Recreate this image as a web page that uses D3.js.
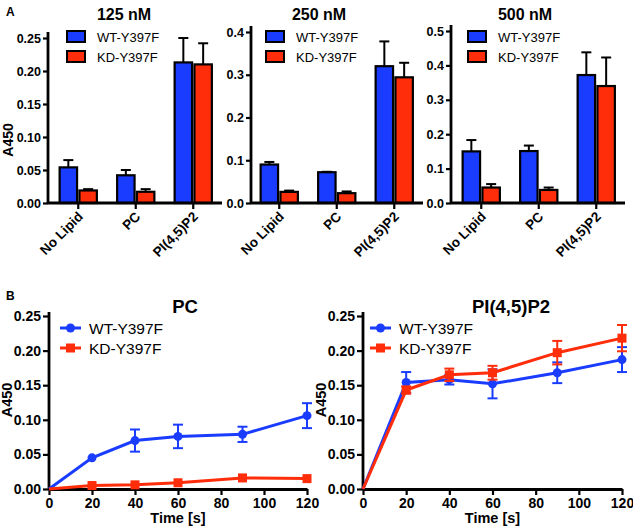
<!DOCTYPE html>
<html>
<head>
<meta charset="utf-8">
<script src="https://cdn.jsdelivr.net/npm/d3@7"></script>
<style>
  body { margin: 0; background: #fff; }
  svg { display: block; font-family: "Liberation Sans", Arial, sans-serif; }
</style>
</head>
<body>
<div id="chart"></div>
<script>
// ---- data ----
var categories = ["No Lipid", "PC", "PI(4,5)P2"];
var seriesNames = ["WT-Y397F", "KD-Y397F"];

// panel A, bar heights and upper error (SEM)
var wt125 = [0.054, 0.042, 0.213];
var wt125Err = [0.011, 0.008, 0.037];
var kd125 = [0.019, 0.017, 0.210];
var kd125Err = [0.002, 0.004, 0.032];

var wt250 = [0.090, 0.072, 0.320];
var wt250Err = [0.006, 0.001, 0.058];
var kd250 = [0.026, 0.023, 0.294];
var kd250Err = [0.003, 0.004, 0.034];

var wt500 = [0.150, 0.151, 0.372];
var wt500Err = [0.033, 0.016, 0.066];
var kd500 = [0.045, 0.038, 0.340];
var kd500Err = [0.010, 0.007, 0.083];

// panel B, time course
var times = [0, 20, 40, 60, 90, 120];
var wtPC = [0, 0.045, 0.070, 0.076, 0.079, 0.106];
var wtPCErr = [0, 0.001, 0.016, 0.017, 0.011, 0.018];
var kdPC = [0, 0.005, 0.006, 0.009, 0.016, 0.015];
var kdPCErr = [0, 0.001, 0.001, 0.001, 0.001, 0.001];

var wtPIP2 = [0, 0.154, 0.158, 0.152, 0.168, 0.187];
var wtPIP2Err = [0, 0.015, 0.007, 0.021, 0.015, 0.018];
var kdPIP2 = [0, 0.143, 0.165, 0.168, 0.197, 0.218];
var kdPIP2Err = [0, 0.005, 0.009, 0.010, 0.017, 0.019];

var tickA1 = [0, 0.05, 0.10, 0.15, 0.20, 0.25];
var tickA2 = [0, 0.1, 0.2, 0.3, 0.4];
var tickA3 = [0, 0.1, 0.2, 0.3, 0.4, 0.5];
var tickB = [0, 0.05, 0.10, 0.15, 0.20, 0.25];
var timeTicks = [0, 20, 40, 60, 80, 100, 120];

var blue = "#1a3cff";
var red = "#ff2d0a";

var svg = d3.select("#chart").append("svg")
    .attr("width", 633)
    .attr("height", 529);

// panel letters
svg.append("text").attr("x", 6).attr("y", 16)
    .style("font-weight", "bold").style("font-size", "12px").text("A");
svg.append("text").attr("x", 6).attr("y", 300)
    .style("font-weight", "bold").style("font-size", "12px").text("B");

function styleAxis(g, fontSize) {
  g.select(".domain").attr("stroke", "#000").attr("stroke-width", 2.8);
  g.selectAll(".tick line").attr("stroke", "#000").attr("stroke-width", 2.2);
  g.selectAll(".tick text").style("font-weight", "bold")
      .style("font-size", fontSize).attr("fill", "#000");
}

// ---- panel A: grouped bars ----
function drawBars(cfg) {
  var y = d3.scaleLinear().domain([0, cfg.yMax]).range([203, cfg.yTop]);
  var x = d3.scaleBand().domain(categories)
      .range([cfg.xEnd - 172.5, cfg.xEnd]);
  var inner = d3.scaleBand().domain(seriesNames).range([-21, 21]).padding(0.12);

  var g = svg.append("g");

  var rows = [];
  categories.forEach(function(c, i) {
    rows.push({cat: c, s: seriesNames[0], v: cfg.wt[i], e: cfg.wtErr[i], col: blue});
    rows.push({cat: c, s: seriesNames[1], v: cfg.kd[i], e: cfg.kdErr[i], col: red});
  });

  // error bars (upper only)
  rows.forEach(function(d) {
    var cx = x(d.cat) + x.bandwidth() / 2 + inner(d.s) + inner.bandwidth() / 2;
    g.append("line").attr("x1", cx).attr("x2", cx)
        .attr("y1", y(d.v)).attr("y2", y(d.v + d.e))
        .attr("stroke", "#000").attr("stroke-width", 2);
    g.append("line").attr("x1", cx - 5).attr("x2", cx + 5)
        .attr("y1", y(d.v + d.e)).attr("y2", y(d.v + d.e))
        .attr("stroke", "#000").attr("stroke-width", 2);
  });

  g.selectAll("rect.bar").data(rows).enter().append("rect")
      .attr("class", "bar")
      .attr("x", d => x(d.cat) + x.bandwidth() / 2 + inner(d.s))
      .attr("y", d => y(d.v))
      .attr("width", inner.bandwidth())
      .attr("height", d => y(0) - y(d.v))
      .attr("fill", d => d.col)
      .attr("stroke", "#000")
      .attr("stroke-width", 2.2);

  // axes
  var yAx = g.append("g").attr("transform", "translate(" + cfg.x0 + ",0)")
      .call(d3.axisLeft(y).tickValues(cfg.ticks).tickFormat(d3.format(cfg.fmt))
        .tickSize(5).tickSizeOuter(0).tickPadding(2));
  yAx.select(".domain").attr("d", "M0," + (cfg.yTop - 6) + "V203");
  styleAxis(yAx, "12.5px");

  var xAx = g.append("g").attr("transform", "translate(0,203)")
      .call(d3.axisBottom(x).tickSize(6).tickSizeOuter(0).tickFormat(""));
  xAx.select(".domain").attr("d", "M" + cfg.x0 + ",0H" + cfg.xEnd);
  styleAxis(xAx, "12px");

  categories.forEach(function(c) {
    var tx = x(c) + x.bandwidth() / 2;
    g.append("text")
        .attr("transform", "translate(" + (tx + 3) + ",215) rotate(-45)")
        .attr("text-anchor", "end")
        .attr("dominant-baseline", "middle")
        .style("font-weight", "bold").style("font-size", "13.5px")
        .text(c);
  });

  // title
  g.append("text").attr("x", cfg.titleX).attr("y", 20)
      .attr("text-anchor", "middle")
      .style("font-weight", "bold").style("font-size", "16px")
      .text(cfg.title);

  // legend
  [blue, red].forEach(function(col, i) {
    g.append("rect").attr("x", cfg.legX).attr("y", 31 + i * 20)
        .attr("width", 18).attr("height", 11)
        .attr("fill", col).attr("stroke", "#000").attr("stroke-width", 2);
    g.append("text").attr("x", cfg.legX + 30).attr("y", 41.5 + i * 20)
        .style("font-size", "13px")
        .text(seriesNames[i]);
  });

  if (cfg.yLabel) {
    g.append("text")
        .attr("transform", "translate(" + cfg.yLabelX + ",140) rotate(-90)")
        .attr("text-anchor", "middle")
        .style("font-weight", "bold").style("font-size", "14px")
        .text("A450");
  }
}

drawBars({title: "125 nM", wt: wt125, wtErr: wt125Err, kd: kd125, kdErr: kd125Err,
  yMax: 0.25, yTop: 38, ticks: tickA1, fmt: ".2f", x0: 48, xEnd: 222,
  titleX: 124, legX: 67, yLabel: true, yLabelX: 13});
drawBars({title: "250 nM", wt: wt250, wtErr: wt250Err, kd: kd250, kdErr: kd250Err,
  yMax: 0.4, yTop: 32, ticks: tickA2, fmt: ".1f", x0: 251, xEnd: 423,
  titleX: 319, legX: 266, yLabel: false});
drawBars({title: "500 nM", wt: wt500, wtErr: wt500Err, kd: kd500, kdErr: kd500Err,
  yMax: 0.5, yTop: 31, ticks: tickA3, fmt: ".1f", x0: 451, xEnd: 625,
  titleX: 525, legX: 468, yLabel: false});

// ---- panel B: time courses ----
function drawLines(cfg) {
  var x = d3.scaleLinear().domain([0, 120]).range([cfg.x0, cfg.x1]);
  var y = d3.scaleLinear().domain([0, 0.25]).range([489, 316]);
  var g = svg.append("g");

  var xAx = g.append("g").attr("transform", "translate(0,489)")
      .call(d3.axisBottom(x).tickValues(timeTicks).tickSize(6).tickSizeOuter(0).tickPadding(3));
  styleAxis(xAx, "14px");
  var yAx = g.append("g").attr("transform", "translate(" + cfg.x0 + ",0)")
      .call(d3.axisLeft(y).tickValues(tickB).tickFormat(d3.format(".2f"))
        .tickSize(6).tickSizeOuter(0).tickPadding(2));
  yAx.select(".domain").attr("d", "M0,312V489");
  styleAxis(yAx, "14px");

  var series = [
    {v: cfg.wt, e: cfg.wtErr, col: blue, marker: "circle"},
    {v: cfg.kd, e: cfg.kdErr, col: red, marker: "square"}
  ];

  var line = d3.line().x(d => x(d[0])).y(d => y(d[1]));
  series.forEach(function(s) {
    var pts = times.map((t, i) => [t, s.v[i], s.e[i]]);
    g.append("path").datum(pts).attr("d", line)
        .attr("fill", "none").attr("stroke", s.col).attr("stroke-width", 3);
    pts.forEach(function(p) {
      if (p[2] > 0.002) {
        var cx = x(p[0]);
        g.append("line").attr("x1", cx).attr("x2", cx)
            .attr("y1", y(p[1] - p[2])).attr("y2", y(p[1] + p[2]))
            .attr("stroke", s.col).attr("stroke-width", 2);
        [p[1] - p[2], p[1] + p[2]].forEach(function(v) {
          g.append("line").attr("x1", cx - 5).attr("x2", cx + 5)
              .attr("y1", y(v)).attr("y2", y(v))
              .attr("stroke", s.col).attr("stroke-width", 2);
        });
      }
      if (p[0] > 0) {
        if (s.marker === "circle") {
          g.append("circle").attr("cx", x(p[0])).attr("cy", y(p[1])).attr("r", 4.5)
              .attr("fill", s.col);
        } else {
          g.append("rect").attr("x", x(p[0]) - 4.5).attr("y", y(p[1]) - 4.5)
              .attr("width", 9).attr("height", 9).attr("fill", s.col);
        }
      }
    });
  });

  g.append("text").attr("x", cfg.titleX).attr("y", 313)
      .attr("text-anchor", "middle")
      .style("font-weight", "bold").style("font-size", "18.5px")
      .text(cfg.title);

  g.append("text").attr("x", (cfg.x0 + cfg.x1) / 2).attr("y", 523)
      .attr("text-anchor", "middle")
      .style("font-weight", "bold").style("font-size", "14.5px")
      .text("Time [s]");

  g.append("text")
      .attr("transform", "translate(" + (cfg.x0 - 37) + ",400) rotate(-90)")
      .attr("text-anchor", "middle")
      .style("font-weight", "bold").style("font-size", "14.5px")
      .text("A450");

  // legend
  [blue, red].forEach(function(col, i) {
    var ly = 328 + i * 20;
    g.append("line").attr("x1", cfg.legX).attr("x2", cfg.legX + 21)
        .attr("y1", ly).attr("y2", ly).attr("stroke", col).attr("stroke-width", 3);
    if (i === 0) {
      g.append("circle").attr("cx", cfg.legX + 10.5).attr("cy", ly).attr("r", 4.5).attr("fill", col);
    } else {
      g.append("rect").attr("x", cfg.legX + 6).attr("y", ly - 4.5)
          .attr("width", 9).attr("height", 9).attr("fill", col);
    }
    g.append("text").attr("x", cfg.legX + 29).attr("y", ly + 5.5)
        .style("font-size", "15.5px")
        .text(seriesNames[i]);
  });
}

drawLines({title: "PC", wt: wtPC, wtErr: wtPCErr, kd: kdPC, kdErr: kdPCErr,
  x0: 49, x1: 307, titleX: 185, legX: 60});
drawLines({title: "PI(4,5)P2", wt: wtPIP2, wtErr: wtPIP2Err, kd: kdPIP2, kdErr: kdPIP2Err,
  x0: 363, x1: 622, titleX: 511, legX: 370});
</script>
</body>
</html>
